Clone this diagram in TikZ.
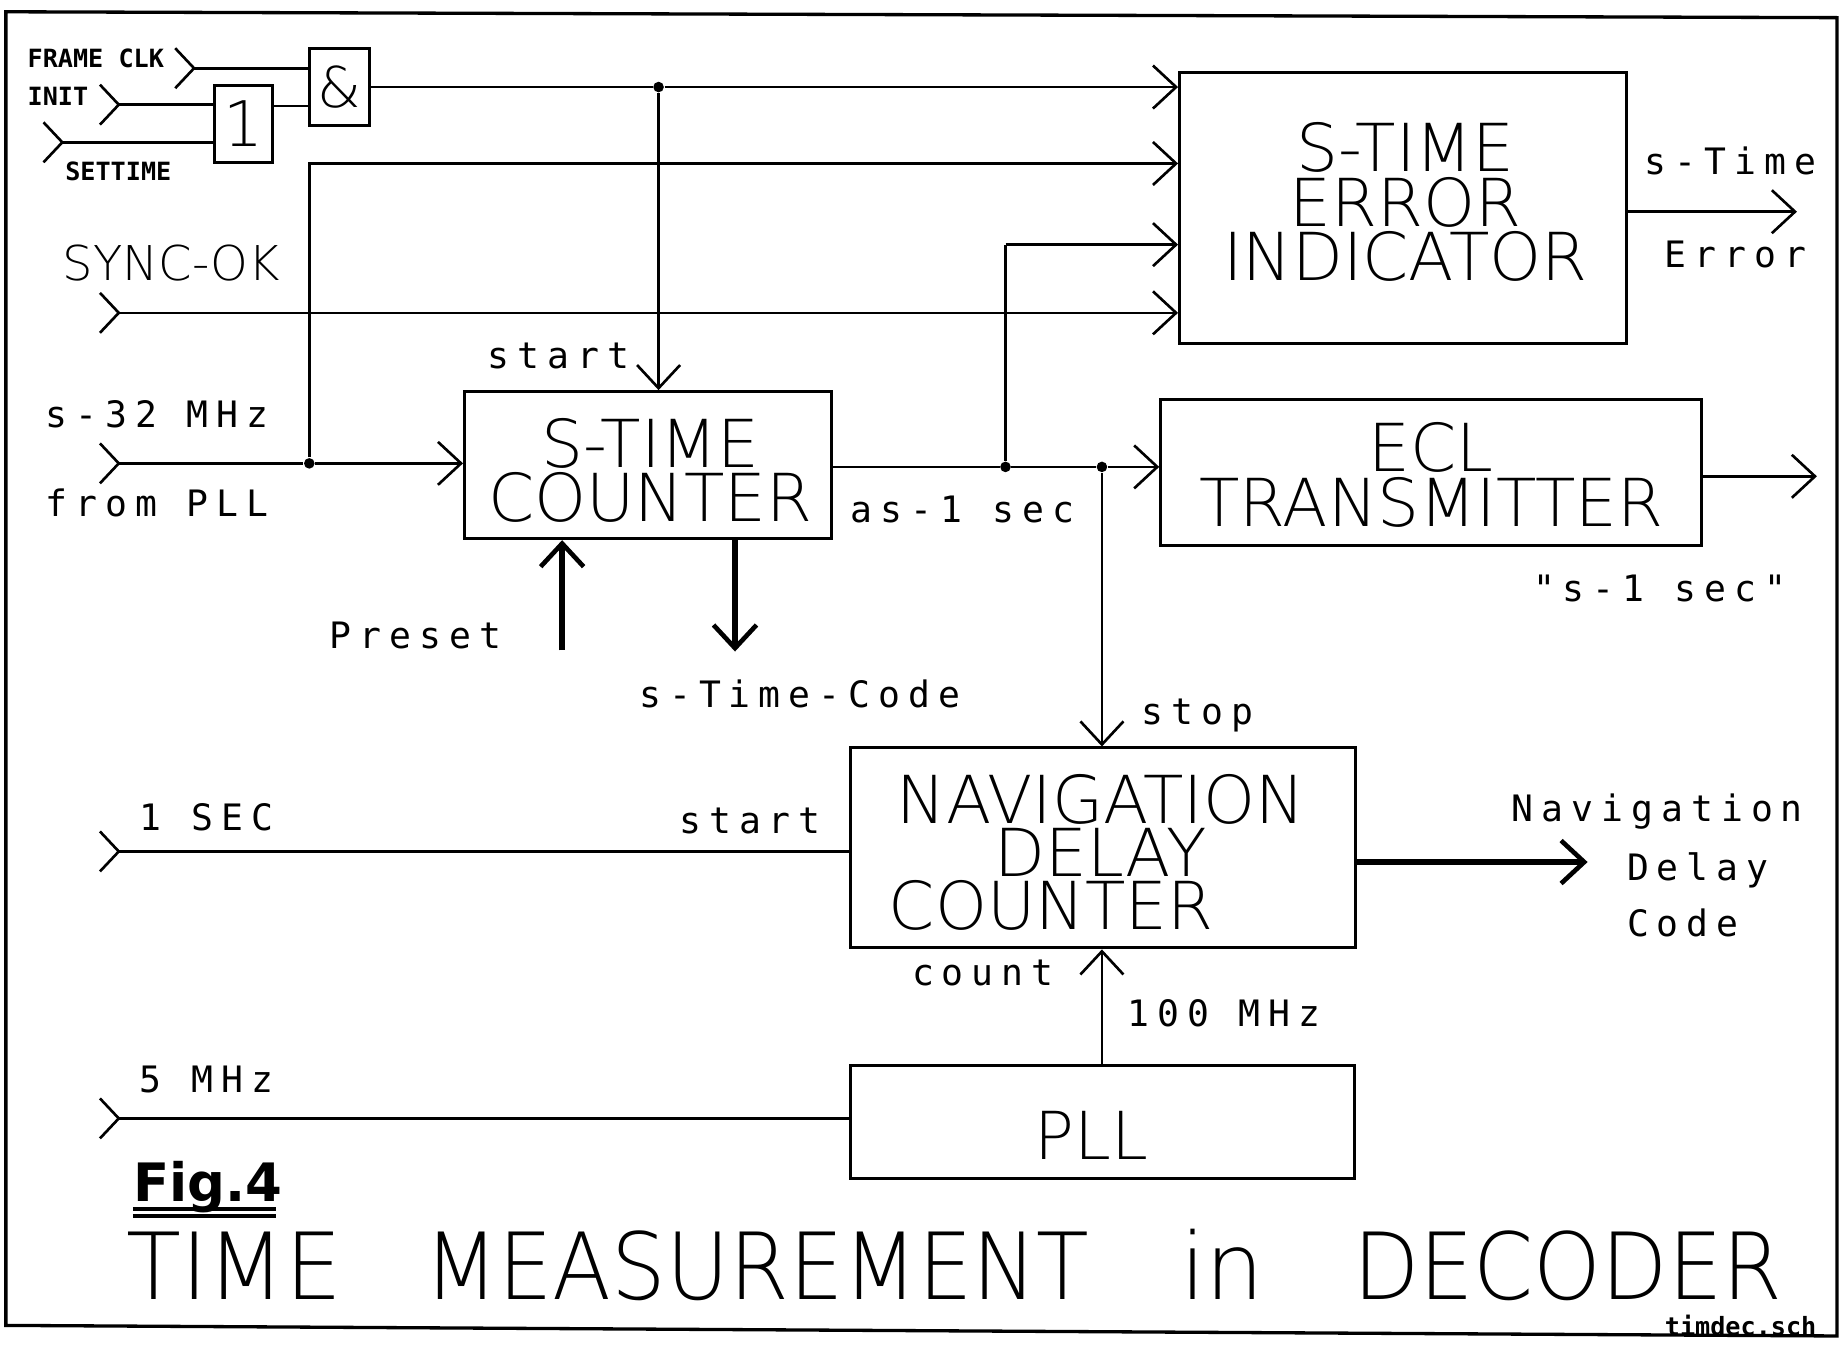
\documentclass[tikz,border=0pt]{standalone}
\usepackage{fontspec}
\usetikzlibrary{arrows.meta,fit}
\IfFontExistsTF{DejaVu Sans ExtraLight}{\newfontfamily\strokefont{DejaVu Sans ExtraLight}}{\newfontfamily\strokefont{DejaVu Sans}}
\newfontfamily\labfont[LetterSpace=22]{DejaVu Sans Mono}
\newfontfamily\plainmono{DejaVu Sans Mono}
\newfontfamily\figfont{DejaVu Sans}
\newcommand\inchev[1]{\draw[wire] ([shift={(-16,-17)}]#1) -- (#1) -- ([shift={(-16,17)}]#1);}
\tikzset{
  wire/.style={line width=0.8pt},
  arr/.style={wire,-{Straight Barb[length=7pt,width=13pt,line width=0.8pt]}},
  thickarr/.style={line width=1.8pt,-{Straight Barb[length=7pt,width=13pt,line width=1.4pt]}},
  box/.style={draw,line width=0.9pt,inner sep=0pt},
  jdot/.style={circle,fill,inner sep=0pt,minimum size=3.2pt},
  lab/.style={font=\labfont\fontsize{11}{12}\selectfont,inner sep=0pt,anchor=west},
  small/.style={font=\plainmono\bfseries\fontsize{7.6}{8}\selectfont,inner sep=0pt,anchor=west},
  big/.style={font=\strokefont\fontsize{20}{16.5}\selectfont,inner sep=0pt,align=center},
  capline/.style={font=\strokefont\fontsize{20}{16.5}\selectfont,inner sep=0pt,text height=14.6pt,text depth=0pt},
}
\begin{document}
\begin{tikzpicture}[x=0.0125cm,y=-0.0125cm]
\useasboundingbox (0,0) rectangle (1568,1145);
% frame
\draw[line width=1pt] (5,10) -- (1562,15) -- (1562,1136) -- (5,1127) -- cycle;

% gates
\node[box,fit={(263,41)(314,107)}] (andg) {};
\node[font=\strokefont\fontsize{17}{17}\selectfont,inner sep=0pt] (andt) at (andg.center) {\&};
\node[box,fit={(182,73)(232,138)}] (org) {};
\node[font=\strokefont\fontsize{19}{19}\selectfont,inner sep=0pt] (ort) at (org.center) {1};

% blocks
\node[box,fit={(395,333)(707,458)}] (stc) {};
\node[big] (stct) at (553,400) {S-TIME\\COUNTER};
\node[box,fit={(1003,62)(1383,292)}] (err) {};
\node[big] (errt) at (1195,172) {S-TIME\\ERROR\\INDICATOR};
\node[box,fit={(987,340)(1447,464)}] (ecl) {};
\node[big] (eclt) at (1217,404) {ECL\\TRANSMITTER};
\node[box,fit={(723,636)(1153,806)}] (nav) {};
\node[big,font=\strokefont\fontsize{20}{16}\selectfont] (navt) at (936,725) {NAVIGATION\\DELAY\hspace*{24pt}\\COUNTER\hspace*{30pt}};
\node[box,fit={(723,906)(1152,1002)}] (pll) {};
\node[capline] (pllt) at (928,965) {PLL};

% input ports
\coordinate (fc) at (165,58);
\coordinate (ini) at (101,89);
\coordinate (set) at (53,121);
\coordinate (sync) at (101,266);
\coordinate (s32) at (101,394);
\coordinate (sec1) at (101,724);
\coordinate (mhz5) at (101,951);
\inchev{fc}\inchev{ini}\inchev{set}\inchev{sync}\inchev{s32}\inchev{sec1}\inchev{mhz5}

% junctions
\node[jdot] (j1) at (560,74) {};
\node[jdot] (j2) at (263,394) {};
\node[jdot] (j3) at (855,397) {};
\node[jdot] (j4) at (937,397) {};
\coordinate (c139) at (263,139);
\coordinate (c208) at (855,208);

% gate wiring
\draw[wire] (fc) -- (fc -| andg.west);
\draw[wire] (ini) -- (ini -| org.west);
\draw[wire] (set) -- (set -| org.west);
\draw[wire] (org.east |- 0,90) -- (andg.west |- 0,90);
\draw[arr] (andg.east |- j1) -- (j1) -- (j1 -| err.west);
\draw[arr] (j1) -- (j1 |- stc.north);

% to error indicator
\draw[arr] (j2) -- (c139) -- (c139 -| err.west);
\draw[arr] (c208) -- (c208 -| err.west);
\draw[wire] (j3) -- (c208);
\draw[arr] (sync) -- (sync -| err.west);

% s-time counter
\draw[arr] (s32) -- (j2) -- (j2 -| stc.west);
\draw[wire] (stc.east |- j3) -- (j3);
\draw[wire] (j3) -- (j4);
\draw[arr] (j4) -- (j4 -| ecl.west);
\draw[arr] (j4) -- (j4 |- nav.north);
\coordinate (presetb) at (478,553);
\coordinate (codeb) at (625,554);
\draw[thickarr] (presetb) -- (presetb |- stc.south);
\draw[thickarr] (codeb |- stc.south) -- (codeb);

% outputs
\coordinate (errout) at (1528,180);
\draw[arr] (err.east |- errout) -- (errout);
\coordinate (eclout) at (1545,405);
\draw[arr] (ecl.east |- eclout) -- (eclout);
\coordinate (navout) at (1350,733);
\draw[thickarr] (nav.east |- navout) -- (navout);

% nav inputs
\draw[wire] (sec1) -- (sec1 -| nav.west);
\draw[arr] (pll.north -| j4) -- (nav.south -| j4);
\draw[wire] (mhz5) -- (mhz5 -| pll.west);

% labels
\node[small] (l1) at (23,50) {FRAME CLK};
\node[small] (l2) at (23,82) {INIT};
\node[small] (l3) at (55,146) {SETTIME};
\node[font=\strokefont\fontsize{14.5}{15}\selectfont,inner sep=0pt,anchor=west] (l4) at (53,224) {SYNC-OK};
\node[lab] (l5) at (414,303) {start};
\node[lab] (l6) at (38,352) {s-32 MHz};
\node[lab] (l7) at (38,428) {from PLL};
\node[lab] (l8) at (723,433) {as-1 sec};
\node[lab] (l9) at (280,540) {Preset};
\node[lab] (l10) at (543,590) {s-Time-Code};
\node[lab] (l11) at (1398,137) {s-Time};
\node[lab] (l12) at (1415,216) {Error};
\node[lab] (l13) at (1303,500) {"s-1 sec"};
\node[lab] (l14) at (970,608) {stop};
\node[lab] (l15) at (118,695) {1 SEC};
\node[lab] (l16) at (577,698) {start};
\node[lab] (l17) at (1285,690) {Navigation};
\node[lab] (l18) at (1383,740) {Delay};
\node[lab] (l19) at (1383,785) {Code};
\node[lab] (l20) at (775,827) {count};
\node[lab] (l21) at (958,862) {100 MHz};
\node[lab] (l22) at (118,918) {5 MHz};

% title
\node[font=\figfont\bfseries\fontsize{16}{16}\selectfont,inner sep=0pt,anchor=base west] (fig) at (113,1022) {Fig.4};
\draw[line width=1.3pt] (113,1028) -- (235,1028);
\draw[line width=1.3pt] (113,1034) -- (235,1034);
\tikzset{ttl/.style={font=\strokefont\fontsize{28}{28}\selectfont,inner sep=0pt,anchor=base west,text height=20.4pt,text depth=0pt}}
\node[ttl] (t1) at (107,1105) {\scalebox{0.97}[1]{TIME}};
\node[ttl] (t2) at (360,1105) {\scalebox{0.93}[1]{MEASUREMENT}};
\node[ttl] (t3) at (1003,1105) {in};
\node[ttl] (t4) at (1150,1105) {\scalebox{0.93}[1]{DECODER}};
\node[small,anchor=east] (fn) at (1545,1127) {timdec.sch};
\end{tikzpicture}
\end{document}
